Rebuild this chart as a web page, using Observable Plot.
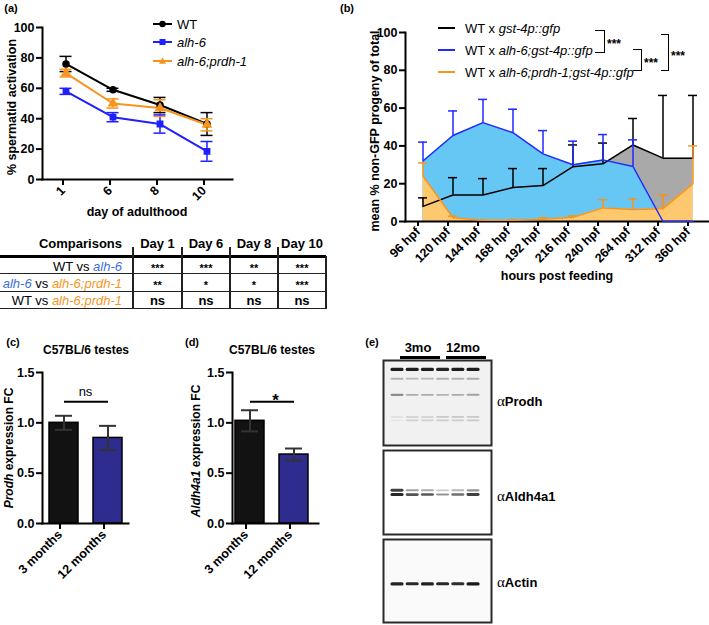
<!DOCTYPE html>
<html><head><meta charset="utf-8">
<script src="https://cdn.jsdelivr.net/npm/d3@7"></script>
<script src="https://cdn.jsdelivr.net/npm/@observablehq/plot@0.6"></script>
<style>
html,body{margin:0;padding:0;background:#fff;}
#fig{position:relative;width:709px;height:625px;overflow:hidden;background:#fff;font-family:"Liberation Sans",Arial,Helvetica,sans-serif;color:#000;}
.lab{white-space:nowrap;line-height:1;}
</style></head><body><div id="fig"></div>
<script>
// ================= DATA =================
// Panel (a): % spermatid activation
const aDays = ["1", "6", "8", "10"];
const aGenotypes = ["WT", "alh-6", "alh-6;prdh-1"];
const aWT = [76, 59, 49, 36.5];
const aWTsem = [5, 1, 5, 7.5];
const aAlh6 = [58, 41, 36.5, 18.5];
const aAlh6sem = [2, 3, 6, 6.5];
const aAlh6Prdh1 = [70, 50, 47, 36];
const aAlh6Prdh1sem = [2.5, 3, 5.5, 4];
const aYTicks = [0, 20, 40, 60, 80, 100];

// Comparison table
const tDays = ["Day 1", "Day 6", "Day 8", "Day 10"];
const tComparisons = [["WT", "alh-6"], ["alh-6", "alh-6;prdh-1"], ["WT", "alh-6;prdh-1"]];
const tSigWTvsAlh6 = ["***", "***", "**", "***"];
const tSigAlh6vsDouble = ["**", "*", "*", "***"];
const tSigWTvsDouble = ["ns", "ns", "ns", "ns"];

// Panel (b): mean % non-GFP progeny of total
const bTimes = ["96 hpf", "120 hpf", "144 hpf", "168 hpf", "192 hpf", "216 hpf", "240 hpf", "264 hpf", "312 hpf", "360 hpf"];
const bCrosses = ["gst-4p::gfp", "alh-6;gst-4p::gfp", "alh-6;prdh-1;gst-4p::gfp"];
const bWT = [8, 14, 14, 18, 19, 29, 30.5, 40.5, 33.5, 33.5];
const bWTsem = [4.5, 9.2, 8.7, 10, 9, 11.5, 11, 14, 33.2, 33.2];
const bAlh6 = [32, 45.5, 52.3, 47, 35.8, 30, 32.6, 29.1, 0, 0];
const bAlh6sem = [10, 13, 12.3, 12.4, 12.3, 12.5, 13.4, 14.1, 0, 0];
const bAlh6Prdh1 = [24, 2, 0.6, 0.6, 1.2, 2.2, 7.2, 6.4, 6.8, 20];
const bAlh6Prdh1sem = [7, 0.8, 0.3, 0.4, 0.8, 0.8, 4.3, 5.6, 7.3, 20];
const bYTicks = [0, 20, 40, 60, 80, 100];
const bPairSig = ["***", "***", "***"];

// Panels (c), (d): expression fold change
const cdAges = ["3 months", "12 months"];
const cProdhFC = [1.0, 0.85];
const cProdhSem = [0.07, 0.12];
const dAldh4a1FC = [1.02, 0.685];
const dAldh4a1Sem = [0.105, 0.06];
const cSig = "ns";
const dSig = "*";
const cdYTicks = [0, 0.5, 1.0, 1.5];

// Panel (e): western blot (band position in % of membrane height, intensity per lane)
const eLanes = [1, 2, 3, 4, 5, 6];
const eAges = ["3mo", "12mo"];
const eAntibodies = ["Prodh", "Aldh4a1", "Actin"];
const eProdhBandPos = [11, 22, 41, 67, 71];
const eProdhBandInt = [
  [0.95, 0.95, 0.95, 0.92, 0.95, 0.95],
  [0.28, 0.25, 0.25, 0.28, 0.28, 0.3],
  [0.45, 0.3, 0.3, 0.28, 0.3, 0.35],
  [0.08, 0.16, 0.16, 0.18, 0.18, 0.18],
  [0.06, 0.14, 0.14, 0.16, 0.16, 0.18]
];
const eAldhBandPos = [48, 53];
const eAldhBandInt = [
  [0.8, 0.4, 0.35, 0.22, 0.3, 0.45],
  [0.9, 0.72, 0.7, 0.45, 0.6, 0.8]
];
const eActinBandPos = [54];
const eActinBandInt = [[0.92, 0.9, 0.93, 0.9, 0.88, 0.97]];

// ================= HELPERS =================
const fig = document.getElementById("fig");
const FONT = '"Liberation Sans", Arial, Helvetica, sans-serif';
const pStyle = {background: "transparent", overflow: "visible", maxWidth: "none", fontFamily: FONT, fontSize: "12.5px", fontWeight: "bold", color: "#000"};
function put(node, left, top) {
  const w = document.createElement("div");
  Object.assign(w.style, {position: "absolute", left: left + "px", top: top + "px", lineHeight: "0"});
  w.appendChild(node); fig.appendChild(w); return w;
}
function txt(html, x, y, o = {}) {
  const d = document.createElement("div");
  d.className = "lab";
  d.innerHTML = html;
  Object.assign(d.style, {position: "absolute", left: x + "px", top: y + "px", fontSize: (o.size || 12.5) + "px",
    fontWeight: o.weight || "bold", color: o.color || "#000"});
  const tx = o.anchor === "start" ? "0%" : o.anchor === "end" ? "-100%" : "-50%";
  d.style.transform = `translate(${tx},-50%)` + (o.rotate ? ` rotate(${o.rotate}deg)` : "");
  fig.appendChild(d); return d;
}
function box(x, y, w, h, css) {
  const d = document.createElement("div");
  Object.assign(d.style, {position: "absolute", left: x + "px", top: y + "px", width: w + "px", height: h + "px", boxSizing: "border-box"}, css);
  fig.appendChild(d); return d;
}

// ================= PANEL (a) =================
const aColors = ["#000000", "#1f1fff", "#f7941d"];
const aMeans = [aWT, aAlh6, aAlh6Prdh1], aSems = [aWTsem, aAlh6sem, aAlh6Prdh1sem];
const aData = [];
aGenotypes.forEach((g, gi) => aDays.forEach((d, di) => aData.push({series: g, day: d, v: aMeans[gi][di], sem: aSems[gi][di]})));
const plotA = Plot.plot({
  width: 240, height: 225, marginLeft: 42, marginRight: 8, marginTop: 27, marginBottom: 46,
  x: {type: "band", domain: aDays, range: [40.2, 230.8], paddingInner: 0.6, paddingOuter: 0.3, label: null},
  y: {domain: [0, 100], label: null},
  color: {domain: aGenotypes, range: aColors},
  symbol: {domain: aGenotypes, range: ["circle", "square", "triangle"]},
  style: pStyle,
  marks: [
    Plot.axisY({ticks: aYTicks, tickSize: 6, tickPadding: 2, strokeWidth: 2, label: null}),
    Plot.axisX({tickSize: 6, tickPadding: 3, strokeWidth: 2, tickRotate: -45, label: null, dx: -3}),
    Plot.frame({anchor: "left", strokeWidth: 2}),
    Plot.frame({anchor: "bottom", strokeWidth: 2}),
    Plot.ruleX(aData, {x: "day", y1: d => d.v - d.sem, y2: d => d.v + d.sem, stroke: "series", strokeWidth: 1.5}),
    Plot.tickY(aData, {x: "day", y: d => d.v - d.sem, stroke: "series", strokeWidth: 1.5, insetLeft: 3.5, insetRight: 3.5}),
    Plot.tickY(aData, {x: "day", y: d => d.v + d.sem, stroke: "series", strokeWidth: 1.5, insetLeft: 3.5, insetRight: 3.5}),
    Plot.line(aData, {x: "day", y: "v", stroke: "series", z: "series", strokeWidth: 2}),
    Plot.dot(aData, {x: "day", y: "v", fill: "series", stroke: "series", symbol: "series", r: 3})
  ]
});
put(plotA, 0, 0);
txt("(a)", 11, 8, {size: 11});
txt("% spermatid activation", 12, 107, {rotate: -90});
txt("day of adulthood", 137, 212, {size: 12.5});
// legend (a)
const aSym = [
  '<circle cx="9.5" cy="5" r="3.2"/>',
  '<rect x="6.5" y="2" width="6" height="6"/>',
  '<path d="M9.5,1.2 L13,7.8 L6,7.8Z"/>'
];
const aLegY = [24, 42, 61];
aGenotypes.forEach((g, i) => {
  const d = box(153, aLegY[i] - 5, 20, 10, {});
  d.innerHTML = `<svg width="20" height="10" style="display:block"><line x1="0" x2="19" y1="5" y2="5" stroke="${aColors[i]}" stroke-width="2"/><g fill="${aColors[i]}">${aSym[i]}</g></svg>`;
  txt(g === "WT" ? g : `<i>${g}</i>`, 177, aLegY[i], {size: 13, weight: "normal", anchor: "start"});
});

// ================= TABLE =================
const tBlue = "#3d6fd6", tOrange = "#f7941d";
const tSig = [tSigWTvsAlh6, tSigAlh6vsDouble, tSigWTvsDouble];
const colX = [0, 133, 182, 230, 278, 326];
const rowY = [265.5, 282.5, 300];
function geno(g) { return g === "WT" ? "WT" : `<i style="color:${g === "alh-6" ? tBlue : tOrange}">${g}</i>`; }
txt("Comparisons", 122, 243, {anchor: "end", size: 13});
tDays.forEach((d, i) => txt(d, (colX[i + 1] + colX[i + 2]) / 2, 243, {size: 13}));
tComparisons.forEach((c, r) => {
  txt(`${geno(c[0])} vs ${geno(c[1])}`, 122, rowY[r], {anchor: "end", size: 13, weight: "normal"});
  tSig[r].forEach((s, i) => {
    const cx = (colX[i + 1] + colX[i + 2]) / 2;
    if (s === "ns") txt(s, cx, rowY[r], {size: 13});
    else txt(s, cx, rowY[r] + 2.5, {size: 11});
  });
});
box(0, 254.5, 326, 3.5, {background: "#000"});
[272.5, 290.5, 307.5].forEach(y => box(0, y, 327, 1.5, {background: "#222"}));
colX.slice(1).forEach(x => { box(x - 0.75, 256, 1.5, 52, {background: "#222"}); if (x < 326) box(x - 0.75, 247, 1.5, 9, {background: "#222"}); });

// ================= PANEL (b) =================
const bLine = ["#000000", "#1f2bff", "#f7941d"];
const bFill = ["#a9a9a9", "#66c7f5", "#fdc86e"];
const bMeans = [bWT, bAlh6, bAlh6Prdh1], bSems = [bWTsem, bAlh6sem, bAlh6Prdh1sem];
const bSer = bCrosses.map((c, ci) => bTimes.map((t, ti) => ({series: c, t, v: bMeans[ci][ti], sem: bSems[ci][ti]})));
const bMarks = [];
bSer.forEach((s, i) => bMarks.push(Plot.areaY(s, {x: "t", y: "v", fill: bFill[i]})));
bMarks.push(
  Plot.axisY({ticks: bYTicks, tickSize: 6, tickPadding: 2, strokeWidth: 2, label: null}),
  Plot.axisX({tickSize: 5, tickPadding: 3, strokeWidth: 2, tickRotate: -45, label: null, dx: -5}),
  Plot.frame({anchor: "left", strokeWidth: 2}),
  Plot.frame({anchor: "bottom", strokeWidth: 2})
);
[0, 2, 1].forEach(i => {
  const s = bSer[i].filter(d => d.sem > 0);
  bMarks.push(
    Plot.ruleX(s, {x: "t", y1: "v", y2: d => d.v + d.sem, stroke: bLine[i], strokeWidth: 1.5}),
    Plot.tickY(s, {x: "t", y: d => d.v + d.sem, stroke: bLine[i], strokeWidth: 1.5}),
    Plot.line(bSer[i], {x: "t", y: "v", stroke: bLine[i], strokeWidth: 1.5})
  );
});
const plotB = Plot.plot({
  width: 409, height: 290, marginLeft: 105, marginRight: 1, marginTop: 32, marginBottom: 69,
  x: {type: "band", domain: bTimes, range: [105.9, 408.1], paddingInner: 0.7, paddingOuter: 0.35, label: null},
  y: {domain: [0, 100], label: null},
  style: pStyle,
  marks: bMarks
});
put(plotB, 300, 0);
txt("(b)", 347, 8, {size: 11});
txt("mean % non-GFP progeny of total", 375, 131, {rotate: -90, size: 12.5});
txt("hours post feeding", 557, 276, {size: 12.5});
const bLegY = [28, 49.5, 71.5];
bCrosses.forEach((c, i) => {
  box(438, bLegY[i] - 1, 17, 2, {background: bLine[i]});
  txt(`WT x <i>${c}</i>`, 465, bLegY[i], {size: 13, weight: "normal", anchor: "start"});
});
const brk = [[595, 30, 10, 22.5], [633, 49, 9, 21.5], [661, 34, 8, 37]];
brk.forEach((b, i) => {
  box(b[0], b[1], b[2], b[3], {border: "1.6px solid #000", borderLeft: "none"});
  txt(bPairSig[i], b[0] + b[2] + 2, b[1] + b[3] / 2 + 3, {size: 12, anchor: "start"});
});

// ================= PANELS (c), (d) =================
function barPlot(means, sems, sig, range) {
  const data = cdAges.map((g, i) => ({g, v: means[i], sem: sems[i]}));
  return Plot.plot({
    width: 150, height: 290, marginLeft: 42, marginRight: 22, marginTop: 42, marginBottom: 97,
    x: {type: "band", domain: cdAges, range, paddingInner: 0.34, paddingOuter: 0.17, label: null},
    y: {domain: [0, 1.5], label: null},
    color: {domain: cdAges, range: ["#121212", "#2e2c8f"]},
    style: pStyle,
    marks: [
      Plot.barY(data, {x: "g", y: "v", fill: "g", stroke: "#000", strokeWidth: 1.5}),
      Plot.ruleX(data, {x: "g", y1: d => d.v - d.sem, y2: d => d.v + d.sem, stroke: "#333", strokeWidth: 2}),
      Plot.tickY(data, {x: "g", y: d => d.v - d.sem, stroke: "#333", strokeWidth: 2, insetLeft: 6, insetRight: 6}),
      Plot.tickY(data, {x: "g", y: d => d.v + d.sem, stroke: "#333", strokeWidth: 2, insetLeft: 6, insetRight: 6}),
      Plot.link([sig], {x1: () => cdAges[0], x2: () => cdAges[1], y1: () => 1.21, y2: () => 1.21, stroke: "#000", strokeWidth: 2}),
      Plot.text([sig], {y: () => (sig === "ns" ? 1.31 : 1.22), text: d => d, frameAnchor: "middle",
        fontSize: sig === "ns" ? 13 : 17, fontWeight: sig === "ns" ? "normal" : "bold"}),
      Plot.axisY({ticks: cdYTicks, tickFormat: ".1f", tickSize: 6, tickPadding: 2, strokeWidth: 2, label: null}),
      Plot.axisX({tickSize: 6, tickPadding: 3, strokeWidth: 2, tickRotate: -45, label: null, dx: -4}),
      Plot.frame({anchor: "left", strokeWidth: 2}),
      Plot.frame({anchor: "bottom", strokeWidth: 2})
    ]
  });
}
put(barPlot(cProdhFC, cProdhSem, cSig, [42, 130]), 0, 330);
put(barPlot(dAldh4a1FC, dAldh4a1Sem, dSig, [38, 126]), 190, 330);
txt("(c)", 13, 342, {size: 11});
txt("(d)", 192, 342, {size: 11});
txt("C57BL/6 testes", 86, 350, {size: 12});
txt("C57BL/6 testes", 272, 350, {size: 12});
txt("<i>Prodh</i> expression FC", 9, 448, {rotate: -90, size: 12});
txt("<i>Aldh4a1</i> expression FC", 196, 451, {rotate: -90, size: 12});

// ================= PANEL (e) =================
function blot(pos, ints, h, bg) {
  const rows = [];
  pos.forEach((p, bi) => eLanes.forEach((l, li) => rows.push({lane: l, pos: p, a: ints[bi][li]})));
  const half = d => (1.3 + 2.0 * d.a) / h * 100 / 2;
  const svg = Plot.plot({
    width: 110, height: h + 2, margin: 1,
    x: {domain: [0.08, 7.18], axis: null},
    y: {domain: [0, 100], reverse: true, axis: null},
    style: pStyle,
    marks: [
      Plot.frame({fill: bg, stroke: null}),
      Plot.rect(rows, {x1: d => d.lane - 0.43, x2: d => d.lane + 0.43, y1: d => d.pos - half(d), y2: d => d.pos + half(d),
        fill: "#111", fillOpacity: "a", rx: 1.5}),
      Plot.frame({stroke: "#2a2a2a", strokeWidth: 2})
    ]
  });
  const g = svg.querySelector('g[aria-label="rect"]');
  if (g) g.style.filter = "blur(0.45px)";
  return svg;
}
put(blot(eProdhBandPos, eProdhBandInt, 85, "#f1f1f1"), 382, 359);
put(blot(eAldhBandPos, eAldhBandInt, 84, "#ffffff"), 382, 449);
put(blot(eActinBandPos, eActinBandInt, 83, "#fafafa"), 382, 538);
txt("(e)", 372, 342, {size: 11});
txt(eAges[0], 418, 347, {size: 13});
txt(eAges[1], 463, 347, {size: 13});
box(400, 355.5, 40, 3, {background: "#000"});
box(446, 355.5, 40, 3, {background: "#000"});
const eLabY = [401, 496, 582];
eAntibodies.forEach((a, i) => txt(`<span style="font-family:'Liberation Serif',serif;font-weight:normal;font-size:15px">α</span>${a}`, 497, eLabY[i], {size: 13, anchor: "start"}));
</script></body></html>
